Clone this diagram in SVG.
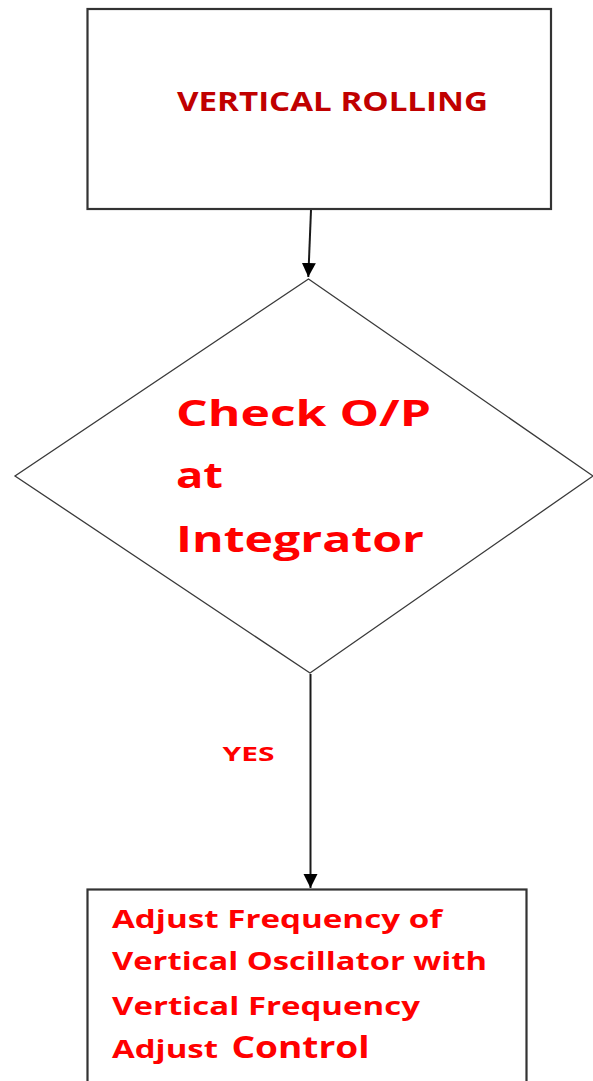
<svg xmlns="http://www.w3.org/2000/svg" width="593" height="1081" viewBox="0 0 593 1081">
  <style>
    .box { fill: #ffffff; stroke: #333333; stroke-width: 2.2; }
    .dia { fill: #ffffff; stroke: #3a3a3a; stroke-width: 1.3; }
    .edge { fill: none; stroke: #1a1a1a; stroke-width: 2; }
    .t { font-family: "Open Sans", "Liberation Sans", sans-serif; font-weight: 700; }
    .dark { fill: #c00000; }
    .red { fill: #ff0000; }
  </style>
  <defs>
    <marker id="arrow" viewBox="0 0 10 10" refX="10" refY="5" markerWidth="7" markerHeight="8" markerUnits="strokeWidth" orient="auto">
      <path d="M0,0 L10,5 L0,10 Z" fill="#000000"/>
    </marker>
  </defs>
  <rect width="593" height="1081" fill="#ffffff"/>

  <g id="connectors">
    <line class="edge" x1="311" y1="210" x2="308.3" y2="277" marker-end="url(#arrow)"/>
    <line class="edge" x1="310.5" y1="674" x2="310.5" y2="888" marker-end="url(#arrow)"/>
    <text class="t red" x="222.5" y="760.5" font-size="20" textLength="52" lengthAdjust="spacingAndGlyphs">YES</text>
  </g>

  <g id="node-rolling">
    <rect class="box" x="87.5" y="9" width="463.5" height="200"/>
    <text class="t dark" x="177" y="111" font-size="26.5" textLength="311" lengthAdjust="spacingAndGlyphs">VERTICAL ROLLING</text>
  </g>

  <g id="node-check">
    <polygon class="dia" points="308.5,279 593,476 310,673 15,476"/>
    <text class="t red" font-size="36">
      <tspan x="176" y="425.5" textLength="255" lengthAdjust="spacingAndGlyphs">Check O/P</tspan>
      <tspan x="176" y="487.5" textLength="47" lengthAdjust="spacingAndGlyphs">at</tspan>
      <tspan x="176" y="551.5" textLength="248" lengthAdjust="spacingAndGlyphs">Integrator</tspan>
    </text>
  </g>

  <g id="node-adjust">
    <rect class="box" x="87.5" y="889.5" width="439" height="200"/>
    <text class="t red" font-size="24.5">
      <tspan x="112" y="928" textLength="330" lengthAdjust="spacingAndGlyphs">Adjust Frequency of</tspan>
      <tspan x="112" y="970" textLength="375" lengthAdjust="spacingAndGlyphs">Vertical Oscillator with</tspan>
      <tspan x="112" y="1014.5" textLength="308" lengthAdjust="spacingAndGlyphs">Vertical Frequency</tspan>
      <tspan x="112" y="1058" textLength="106" lengthAdjust="spacingAndGlyphs">Adjust</tspan>
    </text>
    <text class="t red" x="231.5" y="1058" font-size="30" textLength="138" lengthAdjust="spacingAndGlyphs">Control</text>
  </g>
</svg>
